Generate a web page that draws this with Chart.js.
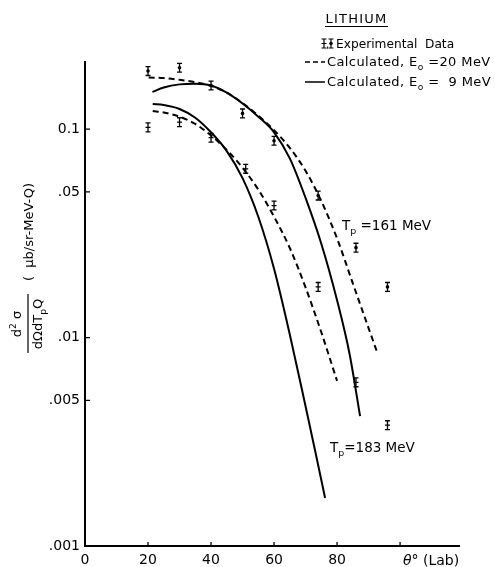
<!DOCTYPE html>
<html><head><meta charset="utf-8">
<script src="https://cdn.jsdelivr.net/npm/chart.js@4.4.1/dist/chart.umd.min.js"></script>
<style>html,body{margin:0;padding:0;background:#fff}#wrap{width:495px;height:567px;position:relative}</style>
</head><body><div id="wrap"><canvas id="c"></canvas></div>
<script>
// ---- Data ----
const xTickValues = [0, 20, 40, 60, 80, 100];
const yTickValues = [0.001, 0.005, 0.01, 0.05, 0.1];
const yTickLabels = ['.001', '.005', '.01', '.05', '0.1'];

// Experimental data, Tp = 161 MeV (dotted marker) and Tp = 183 MeV (plain marker)
const expAngles161 = [20, 30, 40, 50, 60, 74, 86, 96];
const expValues161 = [0.190, 0.197, 0.162, 0.119, 0.088, 0.048, 0.027, 0.0175];
const expAngles183 = [20, 30, 40, 51, 60, 74, 86, 96];
const expValues183 = [0.102, 0.108, 0.091, 0.0645, 0.043, 0.0175, 0.0061, 0.0038];
const expRelError = 0.05;

// Calculated curves
const calc20_161_x = [20.2, 25, 30, 35, 40, 45, 50, 55, 60, 65, 70, 75, 80, 85, 90, 92.6];
const calc20_161_y = [0.177, 0.1758, 0.1726, 0.1679, 0.1614, 0.1496, 0.1334, 0.1161, 0.0989, 0.0813, 0.0631, 0.0452, 0.0299, 0.0182, 0.0111, 0.0086];
const calc9_161_x = [21.4, 25, 30, 35, 40, 45, 50, 55, 60, 65, 70, 75, 80, 84, 87.3];
const calc9_161_y = [0.151, 0.1585, 0.164, 0.1652, 0.162, 0.1496, 0.1327, 0.1148, 0.0966, 0.0724, 0.0468, 0.0282, 0.0151, 0.0083, 0.0042];
const calc20_183_x = [21.5, 25, 30, 35, 40, 45, 50, 55, 60, 65, 70, 75, 80];
const calc20_183_y = [0.1222, 0.1202, 0.1148, 0.1059, 0.0933, 0.0794, 0.0653, 0.0513, 0.0380, 0.0269, 0.0174, 0.0106, 0.0062];
const calc9_183_x = [21.5, 25, 30, 35, 40, 45, 50, 55, 60, 65, 70, 73, 76.2];
const calc9_183_y = [0.132, 0.1306, 0.125, 0.1135, 0.0966, 0.0785, 0.0582, 0.038, 0.0214, 0.01035, 0.00468, 0.00288, 0.0017];

const FONT = '"DejaVu Sans", sans-serif';
const zip = (xs, ys) => xs.map((x, i) => ({x: x, y: ys[i]}));

const curve = (xs, ys, dashed) => ({
  type: 'scatter', showLine: true, data: zip(xs, ys),
  borderColor: '#000', borderWidth: 2, borderDash: dashed ? [6, 4] : [],
  pointRadius: 0, cubicInterpolationMode: 'monotone', fill: false
});

function richText(ctx, parts, x, y, size, align, spacing) {
  ctx.letterSpacing = (spacing || 0) + 'px';
  const widths = parts.map(p => {
    const s = p[1] === 'sub' || p[1] === 'sup' ? size * 0.7 : size;
    ctx.font = (p[1] === 'it' ? 'italic ' : '') + s + 'px ' + FONT;
    return ctx.measureText(p[0]).width;
  });
  const total = widths.reduce((a, b) => a + b, 0);
  let cx = align === 'center' ? x - total / 2 : x;
  ctx.textAlign = 'left';
  ctx.textBaseline = 'alphabetic';
  parts.forEach((p, i) => {
    const s = p[1] === 'sub' || p[1] === 'sup' ? size * 0.7 : size;
    ctx.font = (p[1] === 'it' ? 'italic ' : '') + s + 'px ' + FONT;
    let dy = 0;
    if (p[1] === 'sub') dy = size * 0.3;
    if (p[1] === 'sup') dy = -size * 0.4;
    ctx.fillText(p[0], cx, y + dy);
    cx += widths[i];
  });
  ctx.letterSpacing = '0px';
  return total;
}

function errBar(ctx, px, pTop, pBot, center, dot) {
  ctx.beginPath();
  ctx.moveTo(px, pTop); ctx.lineTo(px, pBot);
  ctx.moveTo(px - 2.5, pTop); ctx.lineTo(px + 2.5, pTop);
  ctx.moveTo(px - 2.5, pBot); ctx.lineTo(px + 2.5, pBot);
  if (!dot) { ctx.moveTo(px - 2.5, center); ctx.lineTo(px + 2.5, center); }
  ctx.stroke();
  if (dot) { ctx.beginPath(); ctx.arc(px, center, 1.8, 0, Math.PI * 2); ctx.fill(); }
}

const decor = {
  id: 'decor',
  afterDraw(chart) {
    const ctx = chart.ctx, xs = chart.scales.x, ys = chart.scales.y;
    const area = chart.chartArea;
    ctx.save();
    ctx.strokeStyle = '#000'; ctx.fillStyle = '#000'; ctx.lineWidth = 1.3;
    // inward ticks
    ctx.beginPath();
    xTickValues.forEach(v => { const p = xs.getPixelForValue(v); ctx.moveTo(p, area.bottom); ctx.lineTo(p, area.bottom - 4); });
    yTickValues.forEach(v => { const p = ys.getPixelForValue(v); ctx.moveTo(area.left, p); ctx.lineTo(area.left + 5, p); });
    ctx.stroke();
    // error bars
    ctx.lineWidth = 1.3;
    const sets = [[expAngles161, expValues161, true], [expAngles183, expValues183, false]];
    sets.forEach(([ax, vals, dot]) => {
      ax.forEach((a, i) => {
        const px = xs.getPixelForValue(a);
        errBar(ctx, px, ys.getPixelForValue(vals[i] * (1 + expRelError)),
          ys.getPixelForValue(vals[i] / (1 + expRelError)), ys.getPixelForValue(vals[i]), dot);
      });
    });
    // Title + legend
    ctx.lineWidth = 1.2;
    richText(ctx, [['LITHIUM', '']], 356.5, 23, 13, 'center', 1.2);
    ctx.beginPath(); ctx.moveTo(325, 26.5); ctx.lineTo(388, 26.5); ctx.stroke();
    // row 1 markers
    errBar(ctx, 324, 39, 48, 43.5, false);
    ctx.font = '10px ' + FONT; ctx.textAlign = 'left'; ctx.fillText(',', 326, 48);
    errBar(ctx, 331, 39, 48, 43.5, true);
    richText(ctx, [['Experimental  Data', '']], 336, 48, 12.2, 'left', 0);
    // row 2
    ctx.lineWidth = 1.5;
    ctx.beginPath(); ctx.setLineDash([5, 3]); ctx.moveTo(305, 62); ctx.lineTo(325, 62); ctx.stroke();
    ctx.setLineDash([]);
    richText(ctx, [['Calculated, E', ''], ['o', 'sub'], [' =20 MeV', '']], 327, 66, 13, 'left', 0.4);
    // row 3
    ctx.beginPath(); ctx.moveTo(305, 82); ctx.lineTo(325, 82); ctx.stroke();
    richText(ctx, [['Calculated, E', ''], ['o', 'sub'], [' =  9 MeV', '']], 327, 86, 13, 'left', 0.4);
    // annotations
    richText(ctx, [['T', ''], ['p', 'sub'], [' =161 MeV', '']], 342, 230, 13.5);
    richText(ctx, [['T', ''], ['p', 'sub'], ['=183 MeV', '']], 330, 452, 13.5);
    // x axis title
    richText(ctx, [['θ', 'it'], ['°', ''], [' (Lab)', '']], 403, 565, 14);
    // y axis title (rotated): local (x', y') -> screen (y', -x')
    ctx.rotate(-Math.PI / 2);
    richText(ctx, [['d', ''], ['2', 'sup'], [' σ', '']], -324, 21, 13, 'center');
    ctx.lineWidth = 1.2;
    ctx.beginPath(); ctx.moveTo(-353, 28); ctx.lineTo(-294, 28); ctx.stroke();
    richText(ctx, [['dΩdT', ''], ['p', 'sub'], ['Q', '']], -324, 42, 13, 'center');
    richText(ctx, [['(  μb/sr-MeV-Q)', '']], -232, 33, 13, 'center');
    ctx.restore();
  }
};

new Chart(document.getElementById('c'), {
  type: 'scatter',
  data: {
    datasets: [
      curve(calc20_161_x, calc20_161_y, true),
      curve(calc9_161_x, calc9_161_y, false),
      curve(calc20_183_x, calc20_183_y, true),
      curve(calc9_183_x, calc9_183_y, false),
      { type: 'scatter', data: zip(expAngles161, expValues161), pointRadius: 0, showLine: false },
      { type: 'scatter', data: zip(expAngles183, expValues183), pointRadius: 0, showLine: false }
    ]
  },
  options: {
    responsive: true, maintainAspectRatio: false, animation: false,
    layout: { padding: { left: 0, top: 62, right: 36, bottom: 0 } },
    plugins: { legend: { display: false }, tooltip: { enabled: false } },
    scales: {
      x: {
        type: 'linear', min: 0, max: 118.7,
        afterBuildTicks: s => { s.ticks = xTickValues.map(v => ({value: v})); },
        afterFit: s => { s.height = 21; },
        ticks: { color: '#000', padding: 6, font: { family: FONT, size: 14 },
          callback: v => (v === 100 ? '' : String(v)), autoSkip: false, maxRotation: 0 },
        grid: { display: false, drawTicks: false },
        border: { display: true, color: '#000', width: 2 }
      },
      y: {
        type: 'logarithmic', min: 0.001, max: 0.21,
        afterBuildTicks: s => { s.ticks = yTickValues.map(v => ({value: v})); },
        afterFit: s => { s.width = 85; },
        ticks: { color: '#000', padding: 5, font: { family: FONT, size: 14 },
          callback: v => { const i = yTickValues.findIndex(t => Math.abs(t - v) / t < 1e-6); return i >= 0 ? yTickLabels[i] : ''; },
          autoSkip: false },
        grid: { display: false, drawTicks: false },
        border: { display: true, color: '#000', width: 2 }
      }
    }
  },
  plugins: [decor]
});
</script></body></html>
